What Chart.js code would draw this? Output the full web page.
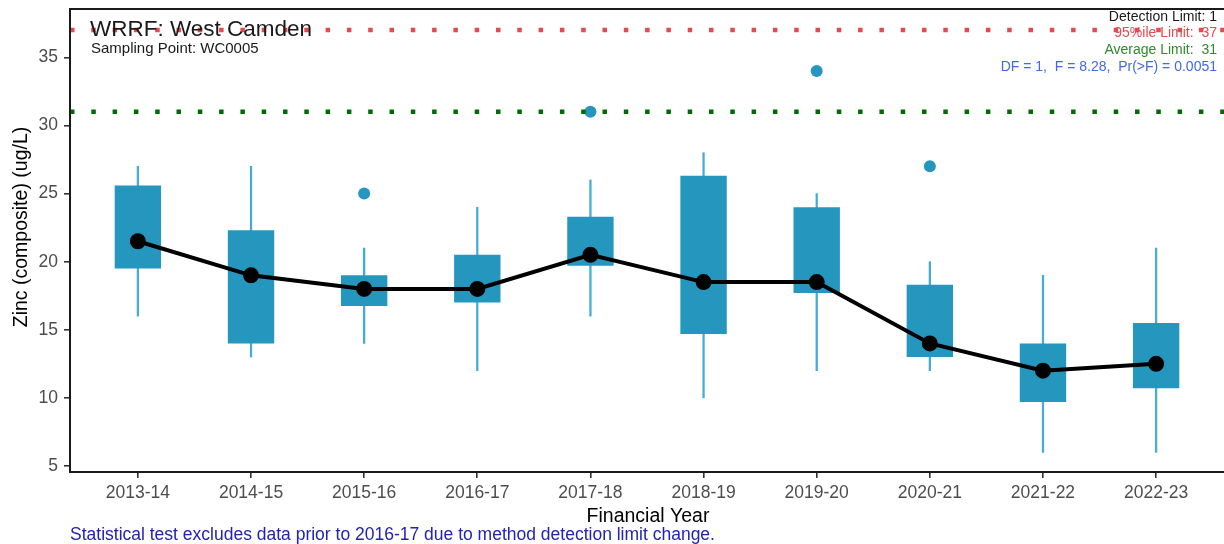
<!DOCTYPE html>
<html lang="en">
<head>
<meta charset="UTF-8">
<title>Zinc - WRRF West Camden</title>
<script src="https://cdn.jsdelivr.net/npm/chart.js"></script>
<style>
    body { margin: 0; background: #fff; }
    canvas { display: block; }
</style>
</head>
<body>
<canvas id="zincChart" width="1224" height="544"></canvas>
<script>
    // values
    const years = ['2013-14', '2014-15', '2015-16', '2016-17', '2017-18', '2018-19', '2019-20', '2020-21', '2021-22', '2022-23'];
    const whiskerLow = [16, 13, 14, 12, 16, 10, 12, 12, 6, 6];
    const whiskerHigh = [27, 27, 21, 24, 26, 28, 25, 20, 19, 21];
    const q1 = [19.5, 14, 16.75, 17, 19.7, 14.7, 17.7, 13, 9.7, 10.7];
    const q3 = [25.6, 22.3, 19, 20.5, 23.3, 26.3, 24, 18.3, 14, 15.5];
    const medians = [21.5, 19, 18, 18, 20.5, 18.5, 18.5, 14, 12, 12.5];
    const outlierYears = ['2015-16', '2017-18', '2019-20', '2020-21'];
    const outlierValues = [25, 31, 34, 27];
    const percentileLimit = 37;
    const averageLimit = 31;
    const yTicks = [5, 10, 15, 20, 25, 30, 35];

    const FONT = "'Liberation Sans', Arial, Helvetica, sans-serif";
    // the right edge of the panel runs off the picture
    const xMin = -0.6, xMax = years.length - 1 + 0.6;

    // text around the plot and the panel frame
    const decorations = {
        id: 'decorations',
        afterDraw(chart) {
            const ctx = chart.ctx;
            const a = chart.chartArea;
            ctx.save();
            ctx.strokeStyle = '#1a1a1a';
            ctx.lineWidth = 2;
            ctx.beginPath();
            ctx.moveTo(a.right, a.top);
            ctx.lineTo(a.left, a.top);
            ctx.lineTo(a.left, a.bottom);
            ctx.lineTo(a.right, a.bottom);
            ctx.stroke();

            ctx.textBaseline = 'middle';
            ctx.textAlign = 'left';
            ctx.fillStyle = '#1a1a1a';
            ctx.font = '22.5px ' + FONT;
            ctx.fillText('WRRF: West Camden', 90, 30);
            ctx.font = '15px ' + FONT;
            ctx.fillText('Sampling Point: WC0005', 91, 49);

            ctx.font = '14px ' + FONT;
            ctx.textAlign = 'right';
            ctx.fillStyle = '#1a1a1a';
            ctx.fillText('Detection Limit: 1', 1217, 17);
            ctx.fillStyle = '#e34b50';
            ctx.fillText('95%ile Limit:  ' + percentileLimit, 1217, 33);
            ctx.fillStyle = '#2e8b2e';
            ctx.fillText('Average Limit:  ' + averageLimit, 1217, 50);
            ctx.fillStyle = '#4169e1';
            ctx.fillText('DF = 1,  F = 8.28,  Pr(>F) = 0.0051', 1217, 67);

            ctx.textAlign = 'center';
            ctx.fillStyle = '#000';
            ctx.font = '19.5px ' + FONT;
            ctx.fillText('Financial Year', 648, 517);
            ctx.save();
            ctx.translate(22, 227);
            ctx.rotate(-Math.PI / 2);
            ctx.fillText('Zinc (composite) (ug/L)', 0, 0);
            ctx.restore();

            ctx.textAlign = 'left';
            ctx.fillStyle = '#2323b0';
            ctx.font = '17.5px ' + FONT;
            ctx.fillText('Statistical test excludes data prior to 2016-17 due to method detection limit change.', 70, 535);
            ctx.restore();
        }
    };

    const ctx = document.getElementById('zincChart').getContext('2d');
    new Chart(ctx, {
        type: 'bar',
        data: {
            datasets: [
                {
                    type: 'line',
                    label: '95%ile limit',
                    data: [{x: xMin, y: percentileLimit}, {x: xMax, y: percentileLimit}],
                    borderColor: '#e34b50',
                    borderWidth: 4.5,
                    borderDash: [4.5, 16.8],
                    pointRadius: 0,
                    order: 0
                },
                {
                    type: 'line',
                    label: 'Average limit',
                    data: [{x: xMin, y: averageLimit}, {x: xMax, y: averageLimit}],
                    borderColor: '#006b00',
                    borderWidth: 4.5,
                    borderDash: [4.5, 16.8],
                    pointRadius: 0,
                    order: 0
                },
                {
                    type: 'scatter',
                    label: 'Outliers',
                    data: outlierYears.map((y, i) => ({x: years.indexOf(y), y: outlierValues[i]})),
                    backgroundColor: '#2596be',
                    borderWidth: 0,
                    pointRadius: 6,
                    order: 1
                },
                {
                    type: 'line',
                    label: 'Median',
                    data: medians.map((v, i) => ({x: i, y: v})),
                    borderColor: '#000',
                    backgroundColor: '#000',
                    borderWidth: 4,
                    pointRadius: 6,
                    tension: 0,
                    order: 2
                },
                {
                    label: 'IQR',
                    data: q1.map((v, i) => ({x: i, y: [v, q3[i]]})),
                    backgroundColor: '#2596be',
                    borderWidth: 0,
                    barPercentage: 0.41,
                    categoryPercentage: 1,
                    grouped: false,
                    order: 3
                },
                {
                    label: 'Whisker',
                    data: whiskerLow.map((v, i) => ({x: i, y: [v, whiskerHigh[i]]})),
                    backgroundColor: '#45acd6',
                    borderWidth: 0,
                    barThickness: 1.6,
                    grouped: false,
                    order: 4
                }
            ]
        },
        plugins: [decorations],
        options: {
            responsive: false,
            animation: false,
            layout: {autoPadding: false, padding: {top: 9, right: 0, left: 0, bottom: 0}},
            plugins: {legend: {display: false}, tooltip: {enabled: false}},
            scales: {
                x: {
                    type: 'linear',
                    offset: false,
                    min: xMin,
                    max: xMax,
                    afterBuildTicks: s => { s.ticks = years.map((_, i) => ({value: i})); },
                    afterFit: s => { s.height = 72; s.paddingLeft = 0; s.paddingRight = 0; },
                    border: {display: false},
                    grid: {offset: false, drawOnChartArea: false, tickLength: 6, color: '#333', lineWidth: 1.6},
                    ticks: {
                        callback: v => years[v],
                        color: '#4d4d4d',
                        font: {family: FONT, size: 17.5},
                        padding: 5,
                        maxRotation: 0,
                        autoSkip: false
                    }
                },
                y: {
                    min: 4.56,
                    max: 38.55,
                    afterBuildTicks: s => { s.ticks = yTicks.map(v => ({value: v})); },
                    afterFit: s => { s.width = 70; s.paddingTop = 0; s.paddingBottom = 0; },
                    border: {display: false},
                    grid: {drawOnChartArea: false, tickLength: 6, color: '#333', lineWidth: 1.6},
                    ticks: {
                        color: '#4d4d4d',
                        font: {family: FONT, size: 17.5},
                        padding: 6
                    }
                }
            }
        }
    });
</script>
</body>
</html>
